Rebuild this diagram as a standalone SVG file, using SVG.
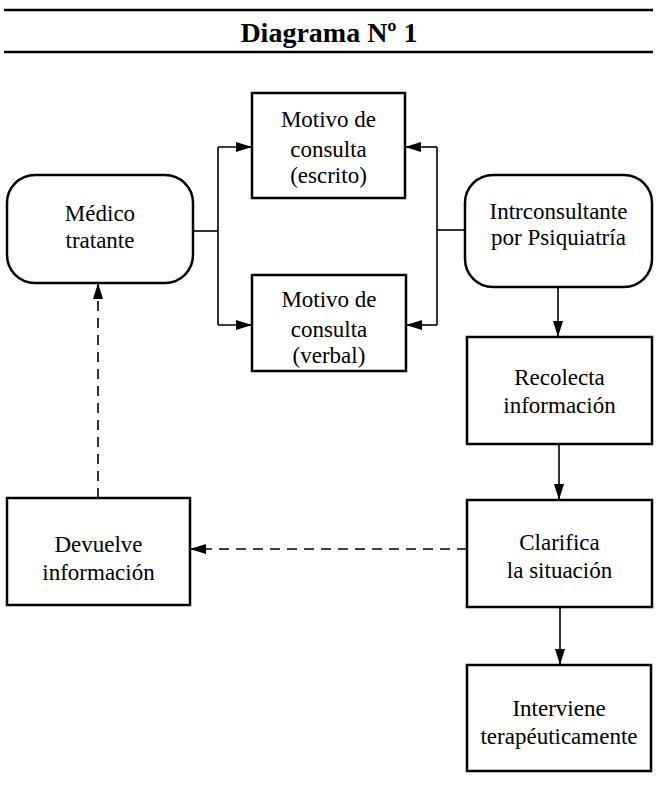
<svg xmlns="http://www.w3.org/2000/svg" width="658" height="808" viewBox="0 0 658 808">
<defs>
<marker id="ah" markerWidth="16" markerHeight="10" refX="16" refY="5" orient="auto" markerUnits="userSpaceOnUse">
<path d="M0,0 L16,5 L0,10 z" fill="#000"/>
</marker>
</defs>
<rect width="658" height="808" fill="#fff"/>
<g id="title">
<line x1="4" y1="10" x2="653" y2="10" stroke="#000" stroke-width="2.5"/>
<line x1="4" y1="52" x2="653" y2="52" stroke="#000" stroke-width="2.5"/>
<text x="329" y="42" text-anchor="middle" font-family="Liberation Serif" font-size="28" font-weight="bold">Diagrama Nº 1</text>
</g>
<g id="connectors" fill="none" stroke="#000" stroke-width="1.6">
<line x1="193" y1="231" x2="218" y2="231"/>
<line x1="218" y1="147" x2="218" y2="325"/>
<line x1="218" y1="147" x2="252" y2="147" marker-end="url(#ah)"/>
<line x1="218" y1="325" x2="252" y2="325" marker-end="url(#ah)"/>
<line x1="465" y1="230" x2="437" y2="230"/>
<line x1="437" y1="147" x2="437" y2="325"/>
<line x1="437" y1="147" x2="405" y2="147" marker-end="url(#ah)"/>
<line x1="437" y1="325" x2="406" y2="325" marker-end="url(#ah)"/>
<line x1="558" y1="287" x2="558" y2="337" marker-end="url(#ah)"/>
<line x1="559" y1="444" x2="559" y2="500" marker-end="url(#ah)"/>
<line x1="560" y1="607" x2="560" y2="665" marker-end="url(#ah)"/>
<line x1="467" y1="549" x2="190" y2="549" stroke-dasharray="10,7" marker-end="url(#ah)"/>
<line x1="98" y1="498" x2="98" y2="283" stroke-dasharray="10,7" marker-end="url(#ah)"/>
</g>
<g id="medico">
<rect x="7" y="175" width="186" height="108" rx="28" fill="#fff" stroke="#000" stroke-width="2.5"/>
<text x="100" y="221" text-anchor="middle" font-family="Liberation Serif" font-size="23">Médico</text>
<text x="100" y="248" text-anchor="middle" font-family="Liberation Serif" font-size="23">tratante</text>
</g>
<g id="motivo-escrito">
<rect x="252" y="93" width="153" height="105" fill="#fff" stroke="#000" stroke-width="2.5"/>
<text x="328.5" y="127" text-anchor="middle" font-family="Liberation Serif" font-size="23">Motivo de</text>
<text x="328.5" y="157" text-anchor="middle" font-family="Liberation Serif" font-size="23">consulta</text>
<text x="328.5" y="183" text-anchor="middle" font-family="Liberation Serif" font-size="23">(escrito)</text>
</g>
<g id="motivo-verbal">
<rect x="252" y="275" width="154" height="96" fill="#fff" stroke="#000" stroke-width="2.5"/>
<text x="329" y="307" text-anchor="middle" font-family="Liberation Serif" font-size="23">Motivo de</text>
<text x="329" y="337" text-anchor="middle" font-family="Liberation Serif" font-size="23">consulta</text>
<text x="329" y="363" text-anchor="middle" font-family="Liberation Serif" font-size="23">(verbal)</text>
</g>
<g id="interconsultante">
<rect x="465" y="175" width="187" height="112" rx="28" fill="#fff" stroke="#000" stroke-width="2.5"/>
<text x="558.5" y="219" text-anchor="middle" font-family="Liberation Serif" font-size="23">Intrconsultante</text>
<text x="558.5" y="245" text-anchor="middle" font-family="Liberation Serif" font-size="23">por Psiquiatría</text>
</g>
<g id="recolecta">
<rect x="467" y="337" width="185" height="107" fill="#fff" stroke="#000" stroke-width="2.5"/>
<text x="559.5" y="385" text-anchor="middle" font-family="Liberation Serif" font-size="23">Recolecta</text>
<text x="559.5" y="413" text-anchor="middle" font-family="Liberation Serif" font-size="23">información</text>
</g>
<g id="clarifica">
<rect x="467" y="500" width="185" height="107" fill="#fff" stroke="#000" stroke-width="2.5"/>
<text x="559.5" y="550" text-anchor="middle" font-family="Liberation Serif" font-size="23">Clarifica</text>
<text x="559.5" y="578" text-anchor="middle" font-family="Liberation Serif" font-size="23">la situación</text>
</g>
<g id="interviene">
<rect x="467" y="665" width="184" height="106" fill="#fff" stroke="#000" stroke-width="2.5"/>
<text x="559" y="716" text-anchor="middle" font-family="Liberation Serif" font-size="23">Interviene</text>
<text x="559" y="744" text-anchor="middle" font-family="Liberation Serif" font-size="23">terapéuticamente</text>
</g>
<g id="devuelve">
<rect x="7" y="498" width="183" height="107" fill="#fff" stroke="#000" stroke-width="2.5"/>
<text x="98.5" y="552" text-anchor="middle" font-family="Liberation Serif" font-size="23">Devuelve</text>
<text x="98.5" y="580" text-anchor="middle" font-family="Liberation Serif" font-size="23">información</text>
</g>
</svg>
